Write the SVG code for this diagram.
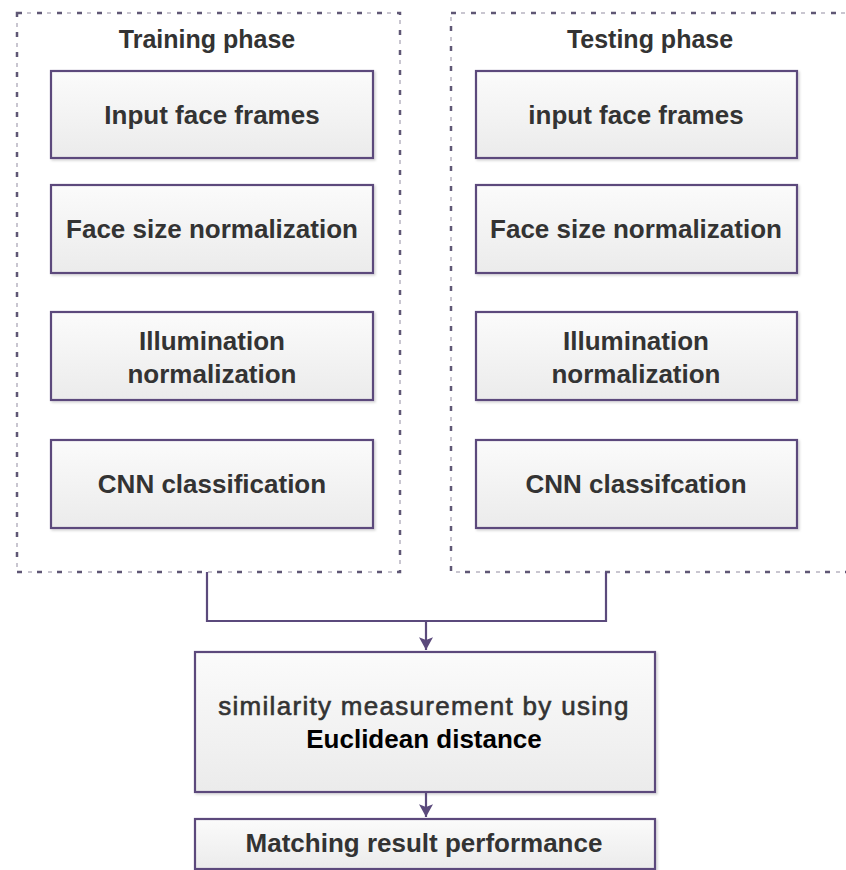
<svg xmlns="http://www.w3.org/2000/svg" width="846" height="870" viewBox="0 0 846 870">
  <style>
    .phase { fill: none; stroke: #5f5775; stroke-width: 2.5; stroke-dasharray: 5 15; }
    .phase-faint { fill: none; stroke: #c9c6d0; stroke-width: 2; stroke-dasharray: 4 16; stroke-dashoffset: -10; }
    .box { fill: url(#boxFill); stroke: #5b4a7c; stroke-width: 2.2; filter: url(#shadow); }
    .title { font-family: "Liberation Sans", Arial, sans-serif; font-weight: bold; font-size: 25px; fill: #333; text-anchor: middle; }
    .label { font-family: "Liberation Sans", Arial, sans-serif; font-weight: bold; font-size: 26px; fill: #333; text-anchor: middle; }
    .plain { font-family: "Liberation Sans", Arial, sans-serif; font-size: 26px; letter-spacing: 1.3px; fill: #333; stroke: #333; stroke-width: 0.6; text-anchor: middle; }
    .strong { font-family: "Liberation Sans", Arial, sans-serif; font-weight: bold; font-size: 26px; fill: #000; text-anchor: middle; }
    .wire { fill: none; stroke: #5b4a7c; stroke-width: 2.2; }
  </style>
  <defs>
    <linearGradient id="boxFill" x1="0" y1="0" x2="0" y2="1">
      <stop offset="0" stop-color="#fbfbfb"/>
      <stop offset="1" stop-color="#ebebeb"/>
    </linearGradient>
    <filter id="shadow" x="-5%" y="-5%" width="112%" height="120%">
      <feDropShadow dx="1.5" dy="1.5" stdDeviation="1" flood-color="#000" flood-opacity="0.18"/>
    </filter>
    <marker id="arrowhead" viewBox="0 0 12 12" refX="11" refY="6" markerWidth="14" markerHeight="14" markerUnits="userSpaceOnUse" orient="auto">
      <path d="M0,0 L11,6 L0,12 L2.5,6 Z" fill="#5b4a7c"/>
    </marker>
  </defs>

  <!-- phase containers -->
  <g id="training-phase">
    <rect class="phase-faint" x="17" y="13" width="383" height="559"/>
    <rect class="phase" x="17" y="13" width="383" height="559"/>
    <text class="title" x="207" y="48">Training phase</text>
  </g>
  <g id="testing-phase">
    <rect class="phase-faint" x="451" y="13" width="420" height="559"/>
    <rect class="phase" x="451" y="13" width="420" height="559"/>
    <text class="title" x="650" y="48">Testing phase</text>
  </g>

  <!-- training steps -->
  <g id="train-input">
    <rect class="box" x="51" y="71" width="322" height="87"/>
    <text class="label" x="212" y="124">Input face frames</text>
  </g>
  <g id="train-size">
    <rect class="box" x="51" y="185" width="322" height="88"/>
    <text class="label" x="212" y="238">Face size normalization</text>
  </g>
  <g id="train-illum">
    <rect class="box" x="51" y="312" width="322" height="88"/>
    <text class="label" x="212" y="350">Illumination</text>
    <text class="label" x="212" y="383">normalization</text>
  </g>
  <g id="train-cnn">
    <rect class="box" x="51" y="440" width="322" height="88"/>
    <text class="label" x="212" y="493">CNN classification</text>
  </g>

  <!-- testing steps -->
  <g id="test-input">
    <rect class="box" x="476" y="71" width="321" height="87"/>
    <text class="label" x="636" y="124">input face frames</text>
  </g>
  <g id="test-size">
    <rect class="box" x="476" y="185" width="321" height="88"/>
    <text class="label" x="636" y="238">Face size normalization</text>
  </g>
  <g id="test-illum">
    <rect class="box" x="476" y="312" width="321" height="88"/>
    <text class="label" x="636" y="350">Illumination</text>
    <text class="label" x="636" y="383">normalization</text>
  </g>
  <g id="test-cnn">
    <rect class="box" x="476" y="440" width="321" height="88"/>
    <text class="label" x="636" y="493">CNN classifcation</text>
  </g>

  <!-- shared steps -->
  <g id="similarity">
    <rect class="box" x="195" y="652" width="460" height="140"/>
    <text class="plain" x="424" y="715">similarity measurement by using</text>
    <text class="strong" x="424" y="748">Euclidean distance</text>
  </g>
  <g id="matching">
    <rect class="box" x="195" y="819" width="460" height="50"/>
    <text class="label" x="424" y="852">Matching result performance</text>
  </g>

  <!-- connectors -->
  <g id="connectors">
    <path class="wire" d="M207,572 V621 H606 V572"/>
    <path class="wire" d="M426,621 V650" marker-end="url(#arrowhead)"/>
    <path class="wire" d="M426,793 V817" marker-end="url(#arrowhead)"/>
  </g>
</svg>
